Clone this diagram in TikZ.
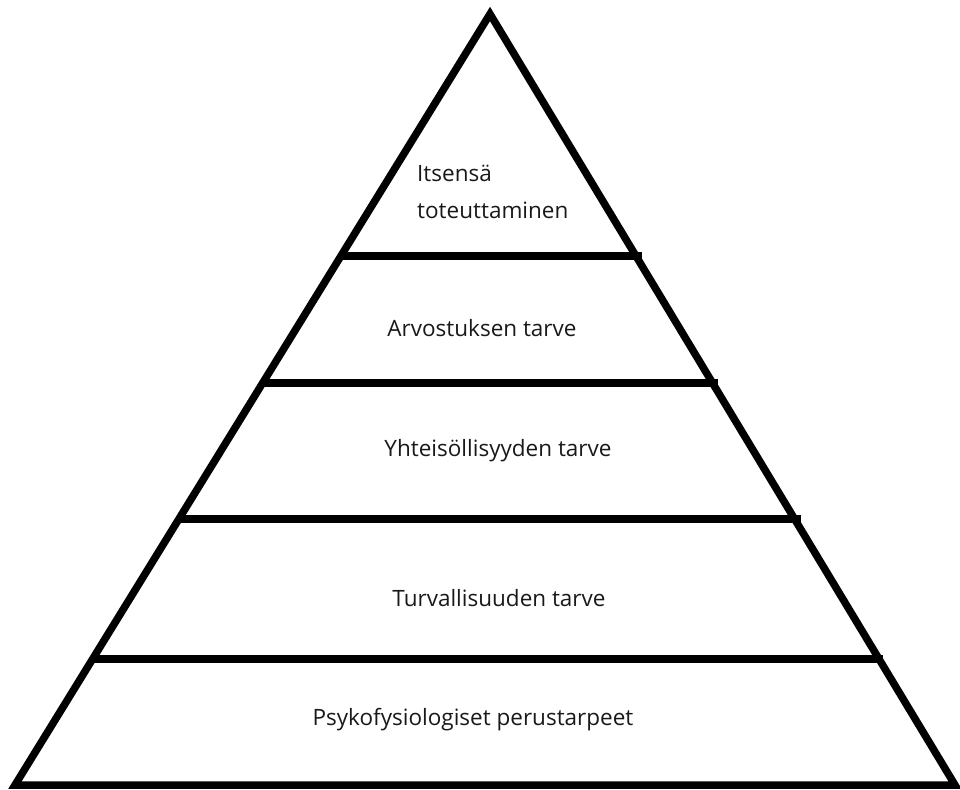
\documentclass[tikz,border=0pt]{standalone}
\usepackage{fontspec}
\setmainfont{Open Sans}
\usetikzlibrary{calc,intersections}
\begin{document}
\begin{tikzpicture}[x=1pt,y=-1pt,
  edge/.style={line width=7.5pt,line join=miter,line cap=butt},
  lbl/.style={font=\fontsize{22.5}{37}\selectfont,inner sep=0pt,text=black!90}]
\useasboundingbox (0,0) rectangle (960,789);
\coordinate (apex) at (490,14);
\coordinate (bl) at (15,785);
\coordinate (br) at (955,785);
\draw[edge] (bl) -- (apex) -- (br) -- cycle;
\foreach \y/\n/\e in {256/a/6,383/b/5,519/c/6,659/d/4}{
  \coordinate (l\n) at ($(apex)!{(\y-14)/771}!(bl)$);
  \coordinate (r\n) at ($(apex)!{(\y-14)/771}!(br)$);
  \draw[edge] (l\n) -- ($(r\n)+(\e,0)$);
}
\node[lbl,anchor=west,align=left] (t1) at (417,192) {Itsensä\\toteuttaminen};
\node[lbl] (t2) at (482,328) {Arvostuksen tarve};
\node[lbl] (t3) at (498,451) {Yhteisöllisyyden tarve};
\node[lbl] (t4) at (499,598) {Turvallisuuden tarve};
\node[lbl] (t5) at (473,720) {Psykofysiologiset perustarpeet};
\end{tikzpicture}
\end{document}
